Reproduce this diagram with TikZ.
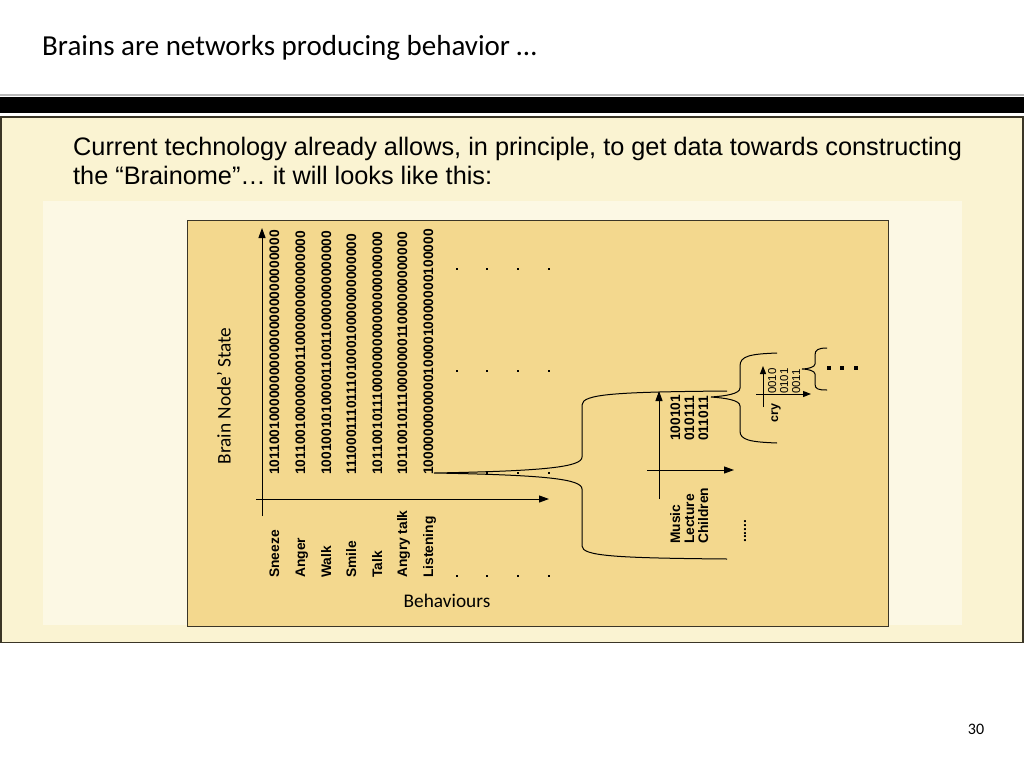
\documentclass[tikz,border=0pt]{standalone}
\usepackage{fontspec}
\setmainfont{Liberation Sans}
\newfontfamily\calib{Carlito}
\usetikzlibrary{arrows.meta}
\definecolor{outerfill}{HTML}{FAF3D2}
\definecolor{panelfill}{HTML}{FCF8E4}
\definecolor{diagfill}{HTML}{F3D88E}
\definecolor{edgecol}{HTML}{3A3526}
\begin{document}
\begin{tikzpicture}[x=1pt,y=-1pt,
  bin/.style={rotate=90, anchor=base west, inner sep=0pt, font=\bfseries\fontsize{13.8}{16}\selectfont},
  lab/.style={rotate=90, anchor=base west, inner sep=0pt, font=\bfseries\fontsize{13.8}{16}\selectfont},
  thin digits/.style={rotate=90, anchor=base west, inner sep=0pt, font=\fontsize{11.5}{13}\selectfont},
  axis/.style={line width=1pt, -{Triangle[length=10pt,width=7pt]}},
  smallaxis/.style={line width=1pt, -{Triangle[length=8pt,width=6pt]}},
  brace/.style={line width=1pt, draw=black},
  sdot/.style={fill=black, minimum size=2.4pt, inner sep=0pt, draw=none, rectangle},
  bdot/.style={fill=black, minimum size=4.5pt, inner sep=0pt, draw=none, rectangle}
]
\useasboundingbox (0,0) rectangle (1024,768);
\fill[white] (0,0) rectangle (1024,768);

% title and bar
\node[anchor=base west, inner sep=0pt, font=\calib\fontsize{29}{34}\selectfont] (title) at (42,56) {Brains are networks producing behavior …};
\fill[gray!55] (0,94.3) rectangle (1024,95.6);
\fill[black] (0,96.5) rectangle (1024,112.5);

% boxes
\draw[edgecol, line width=1.3pt, fill=outerfill] (1,117) rectangle (1023,642.5);
\fill[panelfill] (43,201) rectangle (962,625);
\draw[edgecol, line width=1pt, fill=diagfill] (187,220.5) rectangle (888,626);

% intro text
\node[anchor=base west, inner sep=0pt, font=\fontsize{25.3}{30}\selectfont] (intro1) at (73,155) {Current technology already allows, in principle, to get data towards constructing};
\node[anchor=base west, inner sep=0pt, font=\fontsize{25.3}{30}\selectfont] (intro2) at (73,184) {the “Brainome”… it will looks like this:};

% main axes
\coordinate (yb) at (262,516);
\coordinate (yt) at (262,228);
\coordinate (xl) at (256,499);
\coordinate (xr) at (549,499);
\draw[axis] (yb) -- (yt);
\draw[axis] (xl) -- (xr);

% binary columns
\node[bin] (c1) at (279,475) {10110010000000000000000000000000};
\node[bin] (c2) at (305,475) {10110010000000011000000000000000};
\node[bin] (c3) at (331,475) {10010010100001100110000000000000};
\node[bin] (c4) at (356,475) {11100011101110100010000000000000};
\node[bin] (c5) at (382,475) {10110010111000000000000000000000};
\node[bin] (c6) at (407,475) {10110010111000000011000000000000};
\node[bin] (c7) at (433,475) {10000000000001000010000000100000};

% behaviour labels
\node[lab] (b1) at (279,578) {Sneeze};
\node[lab] (b2) at (305,578) {Anger};
\node[lab] (b3) at (331,578) {Walk};
\node[lab] (b4) at (356,578) {Smile};
\node[lab] (b5) at (382,578) {Talk};
\node[lab] (b6) at (407,578) {Angry talk};
\node[lab] (b7) at (433,578) {Listening};

% axis titles
\node[rotate=90, inner sep=0pt, font=\calib\fontsize{19.3}{22}\selectfont] (ylab) at (224,396) {Brain Node’ State};
\node[inner sep=0pt, font=\calib\fontsize{19.3}{22}\selectfont] (xlab) at (447,601) {Behaviours};

% dot rows
\foreach \yy [count=\r] in {269,371,473,576}{
  \foreach \xx [count=\c] in {457,487,518,549}{
    \node[sdot] (d\r\c) at (\xx,\yy) {};
  }
}

% big brace
\coordinate (tip) at (434,473);
\draw[brace] (727,391) .. controls (615,392) and (582,394) .. (582,405) -- (582,457)
  .. controls (582,467) and (545,471) .. (tip)
  .. controls (545,475) and (582,479) .. (582,489) -- (582,546)
  .. controls (582,556) and (615,558) .. (727,559);

% inner axes (level 2)
\coordinate (vb2) at (659,499);
\coordinate (vt2) at (659,391);
\coordinate (hl2) at (647,470);
\coordinate (hr2) at (734,470);
\draw[axis] (vb2) -- (vt2);
\draw[axis] (hl2) -- (hr2);
\node[bin] (s1) at (680,441) {100101};
\node[bin] (s2) at (694,441) {010111};
\node[bin] (s3) at (708,441) {011011};
\node[lab] (m1) at (680,544) {Music};
\node[lab] (m2) at (694,544) {Lecture};
\node[lab] (m3) at (708,544) {Children};
\node[rotate=90, anchor=west, inner sep=0pt, font=\bfseries\fontsize{13.8}{16}\selectfont] (mdots) at (745,543) {......};

% small brace
\coordinate (tip2) at (711,397);
\draw[brace] (777,353) .. controls (750,354) and (740,356) .. (740,366) -- (740,388)
  .. controls (740,394) and (725,396) .. (tip2)
  .. controls (725,398) and (740,400) .. (740,406) -- (740,431)
  .. controls (740,440) and (750,442) .. (777,443);

% inner axes (level 3)
\coordinate (vb3) at (763,407);
\coordinate (vt3) at (763,366);
\coordinate (hl3) at (756,394);
\coordinate (hr3) at (811,394);
\draw[smallaxis] (vb3) -- (vt3);
\draw[smallaxis] (hl3) -- (hr3);
\node[lab, font=\bfseries\fontsize{12.5}{14}\selectfont] (cry) at (778,423) {cry};
\node[thin digits] (t1) at (776,394) {0010};
\node[thin digits] (t2) at (788,394) {0101};
\node[thin digits] (t3) at (800,394) {0011};

% third brace
\coordinate (tip3) at (802,369);
\draw[brace] (827,348) .. controls (818,348) and (815,350) .. (815,355) -- (815,364)
  .. controls (815,367) and (808,369) .. (tip3)
  .. controls (808,369) and (815,371) .. (815,374) -- (815,384)
  .. controls (815,389) and (818,390) .. (827,390);
\node[bdot] (e1) at (829,368) {};
\node[bdot] (e2) at (842,368) {};
\node[bdot] (e3) at (856,368) {};

% page number
\node[inner sep=0pt, font=\calib\fontsize{16}{18}\selectfont] (pg) at (976,729) {30};
\end{tikzpicture}
\end{document}
